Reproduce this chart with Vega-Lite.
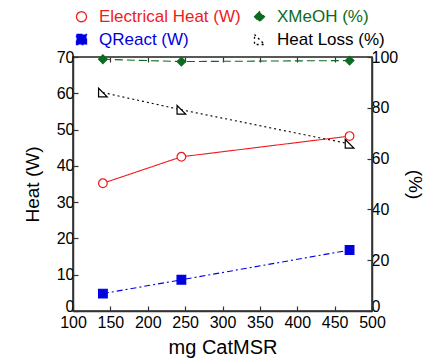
{
  "$schema": "https://vega.github.io/schema/vega-lite/v6.json",
  "width": 299,
  "height": 254,
  "padding": {"left": 23, "top": 8, "right": 5, "bottom": 5},
  "config": {
    "font": "Liberation Sans",
    "view": {"stroke": "#222", "strokeWidth": 1.5},
    "axis": {
      "labelFont": "Liberation Sans",
      "titleFont": "Liberation Sans",
      "labelFontSize": 17,
      "titleFontSize": 19,
      "titleFontWeight": "normal",
      "labelColor": "#000",
      "titleColor": "#000",
      "grid": false,
      "domainColor": "#333",
      "domainWidth": 1.5,
      "tickColor": "#333",
      "tickWidth": 1.2,
      "tickSize": -5,
      "labelPadding": 4,
      "labelFlush": false,
      "labelOverlap": false
    },
    "legend": {"labelFont": "Liberation Sans", "labelFontSize": 17}
  },
  "data": {
    "values": [
      {"series": "Electrical Heat (W)", "unit": "W", "mg": 140, "value": 35.2},
      {"series": "Electrical Heat (W)", "unit": "W", "mg": 245, "value": 42.5},
      {"series": "Electrical Heat (W)", "unit": "W", "mg": 470, "value": 48.2},
      {"series": "QReact (W)", "unit": "W", "mg": 140, "value": 4.8},
      {"series": "QReact (W)", "unit": "W", "mg": 245, "value": 8.6},
      {"series": "QReact (W)", "unit": "W", "mg": 470, "value": 16.8},
      {"series": "XMeOH (%)", "unit": "%", "mg": 140, "value": 99.1},
      {"series": "XMeOH (%)", "unit": "%", "mg": 245, "value": 98.2},
      {"series": "XMeOH (%)", "unit": "%", "mg": 470, "value": 98.6},
      {"series": "Heat Loss (%)", "unit": "%", "mg": 140, "value": 86.0},
      {"series": "Heat Loss (%)", "unit": "%", "mg": 245, "value": 79.2},
      {"series": "Heat Loss (%)", "unit": "%", "mg": 470, "value": 65.8}
    ]
  },
  "encoding": {
    "x": {
      "field": "mg",
      "type": "quantitative",
      "scale": {"domain": [100, 500], "nice": false},
      "axis": {"values": [100, 150, 200, 250, 300, 350, 400, 450, 500], "title": "mg CatMSR", "labelPadding": 8, "labelFontSize": 16, "titlePadding": 7, "titleFontSize": 20}
    },
    "stroke": {
      "field": "series",
      "type": "nominal",
      "scale": {
        "domain": ["Electrical Heat (W)", "XMeOH (%)", "QReact (W)", "Heat Loss (%)"],
        "range": ["#ee1c1c", "#0b6b20", "#0000e0", "#000000"]
      },
      "legend": {
        "orient": "top",
        "columns": 2,
        "title": null,
        "columnPadding": 10,
        "rowPadding": 5,
        "labelOffset": 9,
        "offset": 8,
        "symbolStrokeWidth": 1.3,
        "encode": {"labels": {"update": {"fill": {"scale": "stroke", "field": "value"}}}}
      }
    }
  },
  "layer": [
    {
      "transform": [{"filter": "datum.unit == 'W'"}],
      "encoding": {
        "y": {
          "field": "value",
          "type": "quantitative",
          "scale": {"domain": [0, 70], "nice": false},
          "axis": {
            "orient": "left",
            "title": "Heat (W)",
            "values": [0, 10, 20, 30, 40, 50, 60, 70],
            "labelFontSize": 16,
            "titlePadding": 14,
            "labelOffset": {"condition": {"test": "datum.value == 0", "value": -5}, "value": 0}
          }
        }
      },
      "layer": [
        {
          "mark": {"type": "line", "strokeWidth": 1.1},
          "encoding": {
            "strokeDash": {
              "field": "series",
              "type": "nominal",
              "scale": {
                "domain": ["Electrical Heat (W)", "XMeOH (%)", "QReact (W)", "Heat Loss (%)"],
                "range": [[1, 0], [8, 4], [6, 3, 2, 3], [2, 3]]
              },
              "legend": null
            }
          }
        },
        {
          "mark": {"type": "point", "strokeWidth": 1.2, "size": 75, "opacity": 1},
          "encoding": {
            "fill": {
              "field": "series",
              "type": "nominal",
              "scale": {
                "domain": ["Electrical Heat (W)", "XMeOH (%)", "QReact (W)", "Heat Loss (%)"],
                "range": ["#ffffff", "#0b6b20", "#0000e0", "#ffffff"]
              },
              "legend": {"orient": "top", "columns": 2, "title": null}
            },
            "shape": {
              "field": "series",
              "type": "nominal",
              "scale": {
                "domain": ["Electrical Heat (W)", "XMeOH (%)", "QReact (W)", "Heat Loss (%)"],
                "range": ["circle", "diamond", "square", "M -1 -1 L 1 1 L -1 1 Z"]
              },
              "legend": {"orient": "top", "columns": 2, "title": null}
            }
          }
        }
      ]
    },
    {
      "transform": [{"filter": "datum.unit == '%'"}],
      "encoding": {
        "x": {
          "field": "mg",
          "type": "quantitative",
          "axis": {"orient": "top", "values": [150, 200, 250, 300, 350, 400, 450], "labels": false, "title": null, "domain": false}
        },
        "y": {
          "field": "value",
          "type": "quantitative",
          "scale": {"domain": [0, 100], "nice": false},
          "axis": {
            "orient": "right",
            "title": "(%)",
            "values": [0, 20, 40, 60, 80, 100],
            "labelFontSize": 16,
            "titlePadding": 7,
            "labelOffset": {"condition": {"test": "datum.value == 0", "value": -5}, "value": 0}
          }
        }
      },
      "layer": [
        {
          "mark": {"type": "line", "strokeWidth": 1.1},
          "encoding": {
            "strokeDash": {
              "field": "series",
              "type": "nominal",
              "scale": {
                "domain": ["Electrical Heat (W)", "XMeOH (%)", "QReact (W)", "Heat Loss (%)"],
                "range": [[1, 0], [8, 4], [6, 3, 2, 3], [2, 3]]
              },
              "legend": null
            }
          }
        },
        {
          "mark": {"type": "point", "strokeWidth": 1.2, "size": 75, "opacity": 1},
          "encoding": {
            "fill": {
              "field": "series",
              "type": "nominal",
              "scale": {
                "domain": ["Electrical Heat (W)", "XMeOH (%)", "QReact (W)", "Heat Loss (%)"],
                "range": ["#ffffff", "#0b6b20", "#0000e0", "#ffffff"]
              },
              "legend": {"orient": "top", "columns": 2, "title": null}
            },
            "shape": {
              "field": "series",
              "type": "nominal",
              "scale": {
                "domain": ["Electrical Heat (W)", "XMeOH (%)", "QReact (W)", "Heat Loss (%)"],
                "range": ["circle", "diamond", "square", "M -1 -1 L 1 1 L -1 1 Z"]
              },
              "legend": {"orient": "top", "columns": 2, "title": null}
            }
          }
        }
      ]
    }
  ],
  "resolve": {"scale": {"y": "independent"}, "axis": {"x": "independent"}}
}
